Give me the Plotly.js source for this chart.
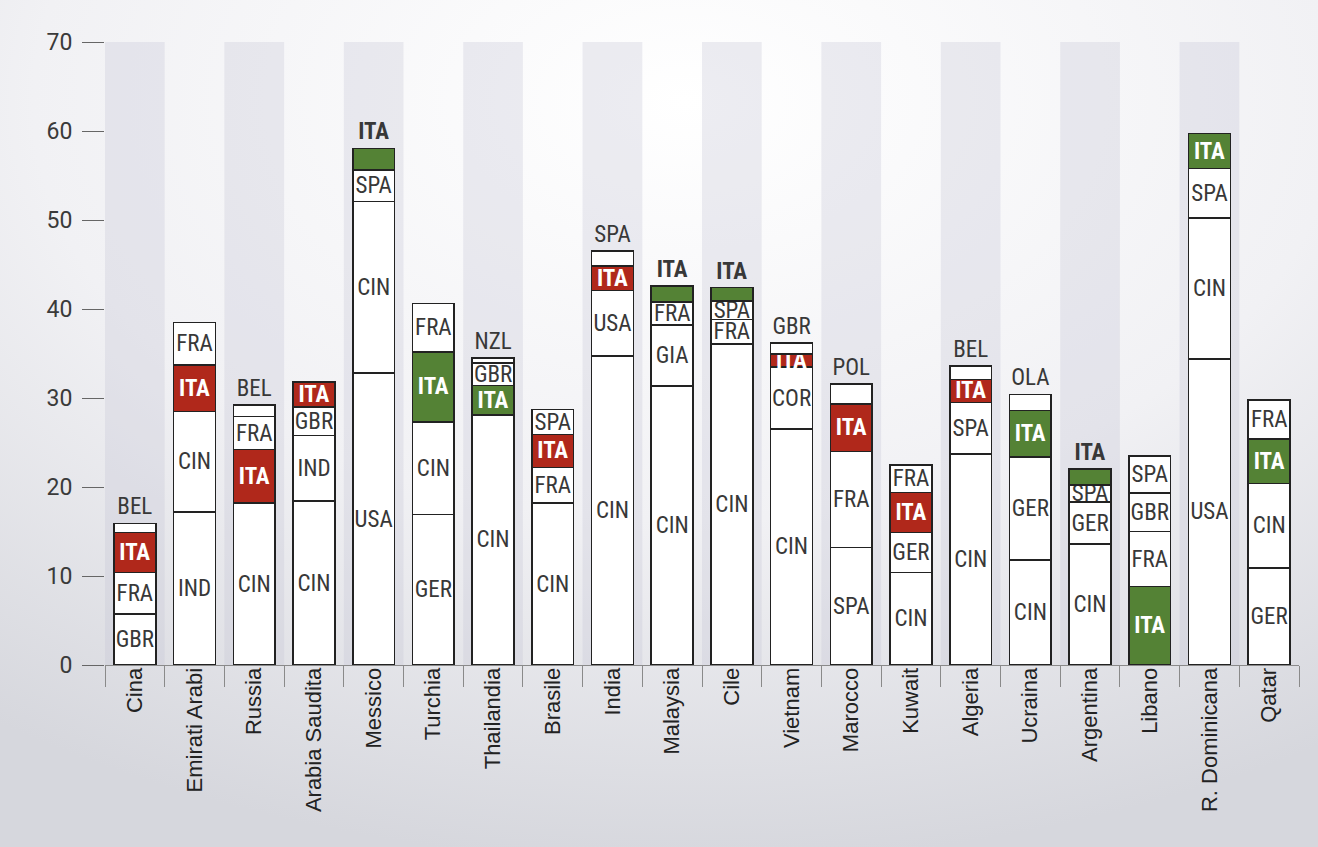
<!DOCTYPE html>
<html>
<head>
<meta charset="utf-8">
<script src="https://cdn.plot.ly/plotly-3.0.1.min.js"></script>
<style>html,body{margin:0;padding:0;background:#eeeef2;}#chart{width:1318px;height:847px;}</style>
</head>
<body>
<div id="chart"></div>
<script>
// Paesi (categorie)
const countries = ["Cina","Emirati Arabi","Russia","Arabia Saudita","Messico","Turchia","Thailandia","Brasile","India","Malaysia","Cile","Vietnam","Marocco","Kuwait","Algeria","Ucraina","Argentina","Libano","R. Dominicana","Qatar"];

// Strato 1 (base)
const layer1Labels = ["GBR","IND","CIN","CIN","USA","GER","CIN","CIN","CIN","CIN","CIN","CIN","SPA","CIN","CIN","CIN","CIN","ITA","USA","GER"];
const layer1Values = [5.7,17.2,18.2,18.4,32.8,16.9,28.1,18.2,34.7,31.35,36.1,26.55,13.2,10.4,23.7,11.8,13.6,8.8,34.4,10.9];
// Strato 2
const layer2Labels = ["FRA","CIN","ITA","IND","CIN","CIN","ITA","FRA","USA","GIA","FRA","COR","FRA","GER","SPA","GER","GER","FRA","CIN","CIN"];
const layer2Values = [4.7,11.3,6.0,7.4,19.3,10.4,3.3,4.0,7.4,6.85,2.7,6.9,10.8,4.5,5.8,11.6,4.7,6.2,15.85,9.5];
// Strato 3
const layer3Labels = ["ITA","ITA","FRA","GBR","SPA","ITA","GBR","ITA","ITA","FRA","SPA","ITA","ITA","ITA","ITA","ITA","SPA","GBR","SPA","ITA"];
const layer3Values = [4.5,5.2,3.7,3.2,3.55,7.9,2.5,3.7,2.7,2.6,2.1,1.5,5.3,4.5,2.6,5.2,1.9,4.3,5.55,5.0];
// Strato 4 (cima)
const layer4Labels = ["BEL","FRA","BEL","ITA","ITA","FRA","NZL","SPA","SPA","ITA","ITA","GBR","POL","FRA","BEL","OLA","ITA","SPA","ITA","FRA"];
const layer4Values = [1.0,4.8,1.3,2.8,2.4,5.4,0.6,2.8,1.7,1.8,1.5,1.2,2.3,3.1,1.5,1.8,1.8,4.2,3.9,4.4];
// Tono della quota italiana: r = rosso, g = verde
const itaTone = ["r","r","r","r","g","g","g","r","r","g","g","r","r","r","r","g","g","g","g","g"];

const yTicks = [0,10,20,30,40,50,60,70];

const RED = "#b0281b", GREEN = "#548235", DARK = "#383838";
const LABEL_FONT = "Roboto Condensed, DejaVu Sans Condensed, Liberation Sans Narrow, Arial Narrow, sans-serif";
const LABEL_SIZE = 23;

const layers = [
  [layer1Labels, layer1Values],
  [layer2Labels, layer2Values],
  [layer3Labels, layer3Values],
  [layer4Labels, layer4Values]
];

const traces = layers.map(([labels, values], li) => {
  const isTop = li === layers.length - 1;
  const pos = values.map(v => (isTop && v < 2.5) ? "outside" : "inside");
  const fill = labels.map((l, i) => l === "ITA" ? (itaTone[i] === "r" ? RED : GREEN) : "#ffffff");
  const tcol = labels.map((l, i) => (l === "ITA" && pos[i] === "inside") ? "#ffffff" : DARK);
  const txt = labels.map(l => l === "ITA" ? "<b>ITA</b>" : l);
  return {
    type: "bar",
    x: countries,
    y: values,
    text: txt,
    textposition: pos,
    insidetextanchor: "middle",
    textangle: 0,
    constraintext: "none",
    cliponaxis: false,
    textfont: {family: LABEL_FONT, size: LABEL_SIZE, color: tcol},
    outsidetextfont: {family: LABEL_FONT, size: LABEL_SIZE, color: tcol},
    insidetextfont: {family: LABEL_FONT, size: LABEL_SIZE, color: tcol},
    marker: {color: fill, line: {color: "#222222", width: 1.6}},
    hoverinfo: "skip",
    showlegend: false
  };
});

const shapes = countries.map((c, i) => i % 2 === 0 ? {
  type: "rect", xref: "x", yref: "y", layer: "below",
  x0: i - 0.5, x1: i + 0.5, y0: 0, y1: yTicks[yTicks.length - 1],
  fillcolor: "rgba(196,196,212,0.30)", line: {width: 0}
} : null).filter(Boolean);

const svg = "<svg xmlns='http://www.w3.org/2000/svg' width='1318' height='847' viewBox='0 0 1318 847' preserveAspectRatio='none'>" +
  "<defs><radialGradient id='g' cx='0.52' cy='0.12' r='0.9'>" +
  "<stop offset='0' stop-color='#ffffff'/><stop offset='0.55' stop-color='#f1f1f4'/><stop offset='1' stop-color='#d6d7dd'/>" +
  "</radialGradient></defs><rect width='1318' height='847' fill='url(#g)'/></svg>";

const W = 1318, H = 847, mL = 105, mR = 19, mT = 42, mB = 182;
const pw = W - mL - mR, ph = H - mT - mB;

const layout = {
  width: W, height: H,
  margin: {l: mL, r: mR, t: mT, b: mB, pad: 0},
  barmode: "stack",
  bargap: 0.3,
  paper_bgcolor: "#eeeef2",
  plot_bgcolor: "rgba(0,0,0,0)",
  hovermode: false,
  showlegend: false,
  images: [{
    source: "data:image/svg+xml;charset=utf-8," + encodeURIComponent(svg),
    xref: "paper", yref: "paper",
    x: -mL / pw, y: 1 + mT / ph,
    sizex: W / pw, sizey: H / ph,
    xanchor: "left", yanchor: "top",
    sizing: "stretch", layer: "below"
  }],
  shapes: shapes,
  xaxis: {
    type: "category",
    range: [-0.5, countries.length - 0.5],
    showgrid: false,
    showline: true, linecolor: "#8a8a8a", linewidth: 1,
    ticks: "outside", tickson: "boundaries", ticklen: 21, tickcolor: "#8a8a8a", tickwidth: 1,
    tickangle: -90,
    ticklabelstandoff: -7,
    tickfont: {family: "Liberation Sans, Arial, sans-serif", size: 22, color: "#222222"},
    zeroline: false, fixedrange: true
  },
  yaxis: {
    range: [0, 70],
    tickvals: yTicks,
    ticktext: yTicks.map(String),
    showgrid: false, zeroline: false, showline: false,
    ticks: "outside", ticklen: 22, tickcolor: "#666666", tickwidth: 1,
    ticklabelstandoff: 5,
    tickfont: {family: "Roboto, sans-serif", size: 23, color: "#3a3a3a"},
    fixedrange: true
  }
};

Plotly.newPlot("chart", traces, layout, {displayModeBar: false, staticPlot: true});
</script>
</body>
</html>
